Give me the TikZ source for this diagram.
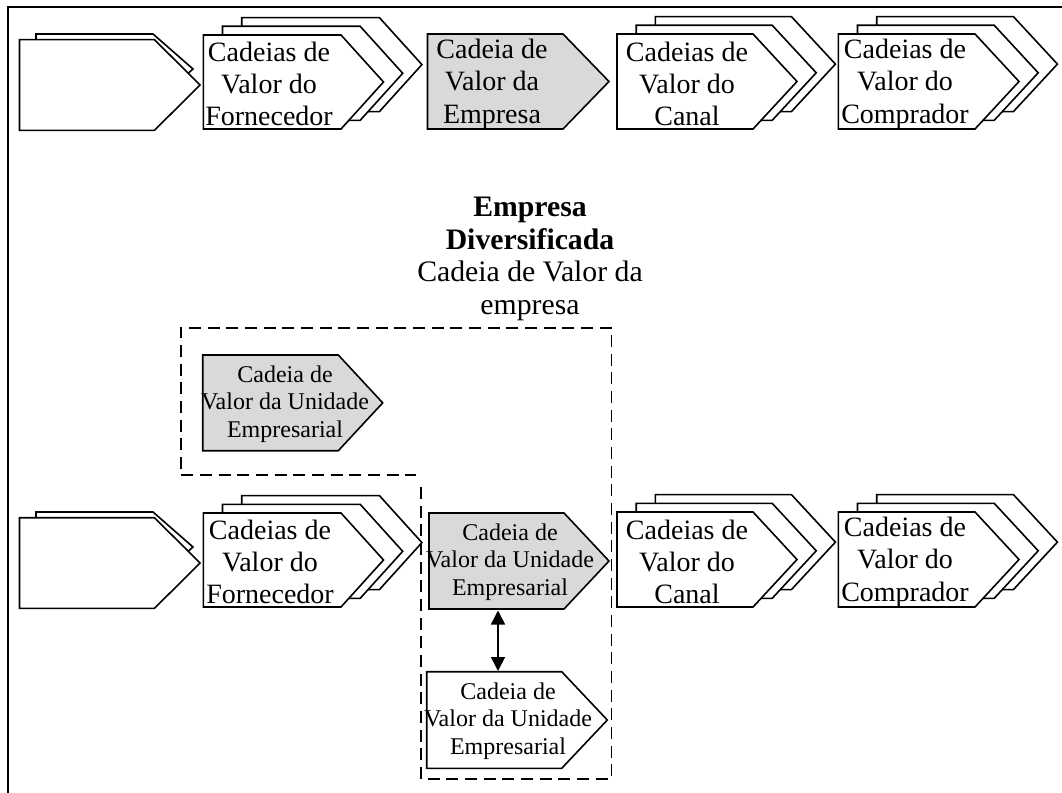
\documentclass[tikz,border=0pt]{standalone}
\usepackage{fontspec}
\setmainfont{Liberation Serif}
\usetikzlibrary{arrows.meta}
\definecolor{boxgray}{RGB}{217,217,217}
\newcommand{\chev}[6]{\path[#1] ({#2},{#3}) -- ({#4},{#3}) -- ({#5},{((#3)+(#6))/2}) -- ({#4},{#6}) -- ({#2},{#6}) -- cycle;}
\newcommand{\chevstack}[5]{%
  \chev{shp}{#1+38.4}{#2-17.4}{#3+38.4}{#4+38.4}{#5-17.4}%
  \chev{shp}{#1+19.2}{#2-8.7}{#3+19.2}{#4+19.2}{#5-8.7}%
  \chev{shp}{#1}{#2}{#3}{#4}{#5}}
\tikzset{
  shp/.style={draw=black, fill=white, line width=1.2pt, line join=miter},
  gshp/.style={shp, fill=boxgray},
  txt/.style={align=center, inner sep=0pt, font=\fontsize{21}{24.3}\selectfont},
  utxt/.style={align=center, inner sep=0pt, font=\fontsize{18}{20.8}\selectfont},
  ttl/.style={align=center, inner sep=0pt, font=\fontsize{22.3}{24.3}\selectfont},
  frame/.style={draw=black, line width=1.2pt},
  dashline/.style={draw=black, line width=1.3pt, dash pattern=on 9pt off 5pt},
  dbl/.style={draw=black, line width=1.2pt, {Triangle[length=10.5pt,width=10.5pt]}-{Triangle[length=10.5pt,width=10.5pt]}}
}
\begin{document}
\begin{tikzpicture}[x=0.75pt,y=-0.75pt]
\useasboundingbox (0,0) rectangle (1062,792);
% frame (cut off at right and bottom)
\draw[frame] (8,800) -- (8,7) -- (1070,7);
% ---------- top row ----------
\chev{shp}{36}{34}{153}{193}{104}
\chev{shp}{19.5}{39.7}{154.5}{200}{130.3}
\chevstack{203.3}{35}{341}{383.5}{129}
\chev{gshp}{427.5}{34}{563}{609}{129}
\chevstack{617}{34}{753}{797}{129}
\chevstack{838.3}{34}{975}{1019}{129}
\node[txt] (fornT) at (269,84) {Cadeias de\\Valor do\\Fornecedor};
\node[txt] (empT) at (492,84) {Cadeia de\\Valor da\\Empresa};
\node[txt] (canT) at (687,84) {Cadeias de\\Valor do\\Canal};
\node[txt] (compT) at (905,84) {Cadeias de\\Valor do\\Comprador};
% ---------- title ----------
\node[ttl] (title) at (530,259) {\textbf{Empresa}\\\textbf{Diversificada}\\Cadeia de Valor da\\empresa};
% ---------- dashed boundary ----------
\draw[dashline] (421,487) -- (421,779) -- (611.5,779) -- (611.5,328) -- (180.7,328) -- (180.7,475) -- (416,475);
% ---------- upper unit ----------
\chev{gshp}{202.7}{355}{338.3}{382.7}{450.7}
\node[utxt] (unitU) at (285,404) {Cadeia de\\Valor da Unidade\\Empresarial};
% ---------- bottom row ----------
\chev{shp}{36}{512}{153}{193}{582}
\chev{shp}{19.5}{517.7}{154.5}{200}{608.3}
\chevstack{203.3}{513}{341}{383.5}{607}
\chev{gshp}{429}{513}{564}{609}{609}
\chevstack{617}{512}{753}{797}{607}
\chevstack{838.3}{512}{975}{1019}{607}
\node[txt] (fornB) at (270,562) {Cadeias de\\Valor do\\Fornecedor};
\node[utxt] (unitG) at (510,562) {Cadeia de\\Valor da Unidade\\Empresarial};
\node[txt] (canB) at (687,562) {Cadeias de\\Valor do\\Canal};
\node[txt] (compB) at (905,562) {Cadeias de\\Valor do\\Comprador};
% ---------- lower white unit ----------
\chev{shp}{426.7}{671.7}{561.7}{607.3}{768.3}
\node[utxt] (unitW) at (508,721) {Cadeia de\\Valor da Unidade\\Empresarial};
% ---------- arrow ----------
\coordinate (arrA) at (498,610.5);
\coordinate (arrB) at (498,671);
\draw[dbl] (arrA) -- (arrB);
\end{tikzpicture}
\end{document}
